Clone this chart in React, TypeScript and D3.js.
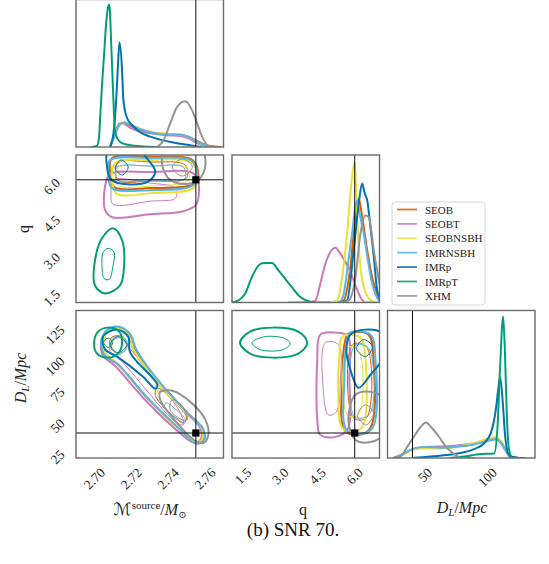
import React from "react";
import * as d3 from "d3";

const W = 549;
const H = 564;

const seriesNames = ["SEOB", "SEOBT", "SEOBNSBH", "IMRNSBH", "IMRp", "IMRpT", "XHM"];
const seriesColors = ["#d55e00", "#cc78bc", "#ece133", "#56b4e9", "#0173b2", "#029e73", "#949494"];

const mcDomain = [2.69, 2.77];
const qDomain = [1.05, 7.0];
const dlDomain = [20, 138];
const truthMc = 2.755;
const truthQ = 6.0;
const truthDL = 40;

const mcTicks = [2.7, 2.72, 2.74, 2.76];
const mcTickLabels = ["2.70", "2.72", "2.74", "2.76"];
const qTicks = [1.5, 3.0, 4.5, 6.0];
const qTickLabels = ["1.5", "3.0", "4.5", "6.0"];
const dlTicksY = [25, 50, 75, 100, 125];
const dlTicksX = [50, 100];

// ---- 1D marginals: [value, relative density] ----
const mcSEOB = [[2.7085,0],[2.7112,0.09],[2.7136,0.15],[2.7157,0.165],[2.7194,0.145],[2.7248,0.115],[2.7319,0.095],[2.7395,0.085],[2.7466,0.08],[2.7509,0.07],[2.7558,0.04],[2.7613,0.01],[2.7683,0]];
const mcSEOBT = [[2.7085,0],[2.7112,0.1],[2.7136,0.16],[2.7149,0.165],[2.7194,0.13],[2.7248,0.105],[2.7319,0.09],[2.7395,0.08],[2.7466,0.075],[2.7509,0.06],[2.7558,0.025],[2.7613,0]];
const mcSEOBNSBH = [[2.7085,0],[2.7112,0.08],[2.7136,0.15],[2.7163,0.17],[2.7194,0.155],[2.7248,0.125],[2.7319,0.1],[2.7395,0.09],[2.7466,0.085],[2.7509,0.07],[2.7558,0.035],[2.7613,0.005],[2.765,0]];
const mcIMRNSBH = [[2.7085,0],[2.7112,0.085],[2.7136,0.15],[2.716,0.165],[2.7194,0.15],[2.7248,0.12],[2.7319,0.095],[2.7395,0.085],[2.7466,0.085],[2.7509,0.07],[2.7558,0.035],[2.7613,0.005],[2.765,0]];
const mcIMRp = [[2.7085,0],[2.7103,0.09],[2.7118,0.32],[2.7127,0.54],[2.7136,0.71],[2.7149,0.54],[2.7157,0.32],[2.7176,0.2],[2.7203,0.15],[2.7248,0.1],[2.7303,0.07],[2.7357,0.05],[2.7428,0.03],[2.7504,0.015],[2.7575,0]];
const mcIMRpT = [[2.6987,0],[2.7015,0.01],[2.7026,0.08],[2.7031,0.2],[2.7041,0.42],[2.7052,0.62],[2.7063,0.83],[2.7074,0.95],[2.7078,0.965],[2.7083,0.94],[2.7091,0.7],[2.7101,0.38],[2.7112,0.1],[2.7128,0.05],[2.7145,0.03],[2.7183,0.015],[2.7248,0.005],[2.733,0]];
const mcXHM = [[2.7339,0],[2.7375,0.045],[2.7411,0.16],[2.7448,0.27],[2.7493,0.31],[2.7529,0.25],[2.7557,0.16],[2.7584,0.07],[2.762,0.005],[2.765,0]];

const qSEOB = [[5.3,0],[5.555,0.014],[5.826,0.24],[6.029,0.58],[6.162,0.705],[6.3,0.58],[6.503,0.354],[6.705,0.17],[6.907,0.06],[7.0,0.014]];
const qSEOBT = [[3.329,0],[4.2,0.004],[4.41,0.012],[4.612,0.127],[4.815,0.263],[5.017,0.342],[5.219,0.372],[5.422,0.331],[5.624,0.274],[5.826,0.206],[6.029,0.116],[6.231,0.036],[6.434,0],[6.8,0]];
const qSEOBNSBH = [[5.0,0],[5.288,0.014],[5.49,0.17],[5.693,0.467],[5.867,0.807],[6.0,0.954],[6.098,0.58],[6.231,0.24],[6.434,0.07],[6.705,0.009],[7.0,0]];
const qIMRNSBH = [[5.4,0],[5.55,0.05],[5.624,0.127],[5.76,0.3],[5.895,0.467],[6.0,0.62],[6.098,0.694],[6.2,0.6],[6.365,0.467],[6.5,0.32],[6.705,0.127],[6.85,0.05],[6.972,0.014]];
const qIMRp = [[5.45,0],[5.693,0.014],[5.96,0.354],[6.162,0.67],[6.3,0.807],[6.405,0.74],[6.503,0.694],[6.636,0.51],[6.77,0.31],[6.907,0.082],[7.0,0.03]];
const qIMRpT = [[1.05,0],[1.305,0.014],[1.576,0.059],[1.847,0.17],[2.115,0.25],[2.317,0.267],[2.657,0.267],[2.924,0.218],[3.195,0.16],[3.467,0.104],[3.734,0.048],[4.005,0.018],[4.41,0],[5.0,0]];
const qXHM = [[5.5,0],[5.758,0.014],[6.029,0.17],[6.231,0.467],[6.434,0.59],[6.568,0.58],[6.77,0.354],[7.0,0.127]];

const dlSEOB = [[25,0],[33.1,0.03],[41.1,0.06],[49.1,0.07],[62.5,0.068],[75.9,0.078],[89.3,0.095],[100,0.12],[106.7,0.13],[110.7,0.11],[114.7,0.054],[118.2,0.01],[125,0]];
const dlSEOBT = [[25,0],[33.1,0.03],[41.1,0.062],[49.1,0.075],[62.5,0.078],[75.9,0.085],[89.3,0.1],[100,0.125],[106.7,0.13],[110.7,0.1],[114.7,0.045],[118.2,0.005],[125,0]];
const dlSEOBNSBH = [[25,0],[33.1,0.028],[41.1,0.055],[49.1,0.065],[62.5,0.065],[75.9,0.078],[89.3,0.1],[100,0.13],[106.7,0.14],[110.7,0.115],[114.7,0.05],[118.2,0.008],[125,0]];
const dlIMRNSBH = [[25,0],[33.1,0.03],[41.1,0.065],[49.1,0.075],[62.5,0.07],[75.9,0.078],[89.3,0.092],[100,0.115],[106.7,0.125],[110.7,0.105],[114.7,0.05],[118.2,0.008],[125,0]];
const dlIMRp = [[40,0],[54.5,0.01],[75.9,0.03],[89.3,0.06],[97.3,0.1],[102.7,0.17],[106.7,0.33],[108.8,0.48],[110.1,0.545],[112.1,0.39],[113.9,0.17],[116.1,0.04],[118.7,0.01],[125,0]];
const dlIMRpT = [[70,0],[81.2,0.01],[94.6,0.027],[105.3,0.03],[108,0.21],[110.1,0.62],[112.5,0.96],[113.9,0.73],[115.5,0.28],[117.4,0.05],[120.1,0],[130,0]];
const dlXHM = [[25,0],[30.4,0.01],[35.8,0.076],[41.1,0.144],[46.5,0.21],[50.5,0.24],[55.9,0.2],[61.2,0.144],[67.9,0.065],[74.6,0.02],[78.6,0],[90,0]];

// ---- 2D contours: [series, outer(1)/inner(0), points] ----
const contMcQ = [
  ["SEOB", 1, [[2.7096,6.879],[2.7303,6.919],[2.7531,6.798],[2.7564,6.15],[2.7542,5.826],[2.7303,5.664],[2.7107,5.705],[2.7085,6.312]]],
  ["SEOB", 0, [[2.7128,6.676],[2.7303,6.717],[2.7493,6.595],[2.7499,6.069],[2.7303,5.948],[2.7128,5.988]]],
  ["SEOBT", 1, [[2.7085,6.231],[2.7303,6.312],[2.752,6.312],[2.7558,6.069],[2.7553,5.016],[2.7482,4.733],[2.7303,4.612],[2.7096,4.49],[2.7058,4.774],[2.7058,5.745]]],
  ["SEOBT", 0, [[2.7101,5.988],[2.7303,5.867],[2.7439,5.664],[2.7439,5.259],[2.7303,5.138],[2.7101,5.016],[2.709,5.502]]],
  ["SEOBNSBH", 1, [[2.7112,6.676],[2.7303,6.798],[2.752,6.717],[2.7558,6.19],[2.7537,5.664],[2.7303,5.462],[2.7123,5.421],[2.7096,5.907]]],
  ["SEOBNSBH", 0, [[2.7128,6.474],[2.7303,6.555],[2.7499,6.474],[2.751,5.988],[2.7303,5.745],[2.7128,5.786]]],
  ["IMRNSBH", 1, [[2.7085,6.798],[2.7303,6.879],[2.752,6.798],[2.7558,6.312],[2.7537,5.786],[2.7303,5.583],[2.7096,5.664],[2.7074,6.19]]],
  ["IMRNSBH", 0, [[2.7123,6.514],[2.7303,6.55],[2.7482,6.514],[2.7488,6.029],[2.7303,6.0],[2.7123,5.988]]],
  ["IMRp", 1, [[2.7074,7.2],[2.7069,6.514],[2.7085,6.069],[2.7128,5.867],[2.7286,5.907],[2.733,6.312],[2.7292,6.798],[2.7237,7.2]]],
  ["IMRp", 0, [[2.7145,6.798],[2.7183,6.514],[2.7151,6.19],[2.7112,6.474]]],
  ["IMRpT", 1, [[2.7101,4.045],[2.715,3.56],[2.7161,2.547],[2.7139,1.738],[2.7058,1.414],[2.7003,1.738],[2.7003,2.75],[2.7041,3.64]]],
  ["IMRpT", 0, [[2.7074,3.235],[2.7107,3.073],[2.7101,2.547],[2.708,1.98],[2.7052,2.02],[2.7041,2.547],[2.7047,3.073]]],
  ["XHM", 1, [[2.7384,7.2],[2.7368,6.595],[2.7411,5.988],[2.7493,5.826],[2.7564,5.988],[2.7602,6.595],[2.7575,7.28]]],
  ["XHM", 0, [[2.7477,6.838],[2.7531,6.514],[2.7477,6.15],[2.7422,6.514]]],
];

const contMcDL = [
  ["SEOB", 1, [[2.7041,112.3],[2.7074,121.9],[2.7139,124.3],[2.7194,117.9],[2.7221,106.7],[2.7341,82.6],[2.7504,56.1],[2.7585,44.1],[2.7591,34.4],[2.7548,32.0],[2.7466,42.5],[2.7286,68.2],[2.7123,95.4],[2.7058,102.7]]],
  ["SEOB", 0, [[2.709,116],[2.7139,117.9],[2.7172,113],[2.7167,106],[2.712,104],[2.7085,109]]],
  ["SEOB", 0, [[2.7341,76],[2.7466,60],[2.75,52],[2.7482,48],[2.7455,50],[2.733,70]]],
  ["SEOBT", 1, [[2.7036,111.5],[2.707,121.5],[2.7139,123.5],[2.719,117],[2.7213,106],[2.733,82.5],[2.7493,56.5],[2.7572,44.5],[2.7578,35],[2.7537,32.5],[2.7452,41.5],[2.7272,67],[2.711,94],[2.7048,101.5]]],
  ["SEOBT", 0, [[2.7096,113.1],[2.7139,116.3],[2.7183,109.1],[2.7466,56.1],[2.7482,46.5],[2.7439,48.9],[2.7139,98.7],[2.7085,105.1]]],
  ["SEOBNSBH", 1, [[2.7047,113],[2.708,122.5],[2.7139,123.5],[2.719,117],[2.7215,106],[2.7335,82],[2.7498,56],[2.758,44.5],[2.7586,35],[2.7545,33],[2.746,43],[2.728,69],[2.712,96],[2.706,103.5]]],
  ["SEOBNSBH", 0, [[2.7101,114.7],[2.715,117.1],[2.7178,110],[2.7145,104],[2.7101,106]]],
  ["SEOBNSBH", 0, [[2.7328,77],[2.7346,75.5],[2.734,72.5],[2.7322,74]]],
  ["IMRNSBH", 1, [[2.7036,113],[2.707,122.5],[2.7135,125],[2.7197,118.5],[2.7226,107],[2.7346,82],[2.751,55],[2.759,43],[2.7594,34],[2.755,31.5],[2.747,42],[2.729,67.5],[2.7127,95],[2.7055,102]]],
  ["IMRNSBH", 0, [[2.7096,115],[2.7145,118],[2.718,111],[2.714,103],[2.7096,107]]],
  ["IMRNSBH", 0, [[2.739,64],[2.7455,57],[2.7493,51],[2.7488,48],[2.7455,51],[2.738,61]]],
  ["IMRp", 1, [[2.7047,117.1],[2.7123,122.7],[2.7183,117.1],[2.7194,104.3],[2.7341,78.6],[2.733,75.4],[2.7264,85],[2.7123,101.1],[2.7058,106.7]]],
  ["IMRp", 0, [[2.7128,117.1],[2.7177,110.7],[2.7128,104.3],[2.7085,110.7]]],
  ["IMRpT", 1, [[2.7074,124.3],[2.7134,121.1],[2.715,112.3],[2.7128,103.5],[2.7074,100.3],[2.7014,103.5],[2.6998,112.3],[2.702,121.1]]],
  ["IMRpT", 0, [[2.7074,116],[2.71,112.3],[2.7074,108.5],[2.705,112.3]]],
  ["XHM", 1, [[2.7357,73],[2.7422,73.8],[2.752,64.9],[2.7602,50.5],[2.7618,38.5],[2.7591,32],[2.7548,33.6],[2.7493,40.9],[2.7411,54.5],[2.7357,66.5]]],
  ["XHM", 0, [[2.7422,66.5],[2.7477,61.7],[2.7504,50.5],[2.7477,50.5],[2.7411,58.5]]],
];

const contQDL = [
  ["SEOB", 1, [[5.745,119.5],[6.555,118.7],[6.757,98.7],[6.636,44.1],[6.15,38.5],[5.584,42.5],[5.503,82.6],[5.584,110.7]]],
  ["SEOB", 0, [[5.908,110.7],[6.474,109.1],[6.474,52.1],[5.948,52.1]]],
  ["SEOBT", 1, [[4.612,118.7],[5.219,120.3],[5.705,117.9],[5.786,82.6],[5.705,42.5],[5.219,36.9],[4.612,38.5],[4.49,50.5],[4.49,98.7]]],
  ["SEOBT", 0, [[4.815,112.3],[5.341,110.7],[5.422,82.6],[5.259,56.9],[4.936,54.5],[4.733,74.6]]],
  ["SEOBNSBH", 1, [[5.503,117.1],[6.231,116.3],[6.434,98.7],[6.35,46.5],[6.029,40.9],[5.503,44.1],[5.341,70.6],[5.381,102.7]]],
  ["SEOBNSBH", 0, [[5.705,108.3],[6.15,106.7],[6.15,54.5],[5.705,54.5]]],
  ["IMRNSBH", 1, [[5.827,120.3],[6.636,118.7],[6.838,98.7],[6.717,44.1],[6.231,39.3],[5.665,42.5],[5.584,82.6],[5.665,110.7]]],
  ["IMRNSBH", 0, [[6.0,110],[6.55,108],[6.6,55],[6.0,53]]],
  ["IMRp", 1, [[5.827,118.7],[6.434,122.7],[7.04,120.3],[7.08,98.7],[6.636,86.6],[6.15,76.2],[5.827,90.6],[5.665,106.7]]],
  ["IMRp", 0, [[6.353,114.7],[6.717,109.1],[6.434,101.1],[6.07,107.5]]],
  ["IMRpT", 1, [[1.374,112.3],[1.779,121.1],[2.71,124.3],[3.722,121.1],[4.086,112.3],[3.722,103.5],[2.71,100.3],[1.779,103.5]]],
  ["IMRpT", 0, [[1.86,112.3],[2.386,117.1],[3.195,115.5],[3.398,111.5],[3.114,106.7],[2.183,106.7]]],
  ["XHM", 1, [[6.029,70.6],[6.636,73],[7.12,68.2],[7.12,38.5],[6.636,32.8],[6.029,34.4],[5.746,50.5]]],
  ["XHM", 0, [[6.434,62.5],[6.757,56.1],[6.474,46.5],[6.111,53.7]]],
];

const mcMarginals = [mcSEOB, mcSEOBT, mcSEOBNSBH, mcIMRNSBH, mcIMRp, mcIMRpT, mcXHM];
const qMarginals = [qSEOB, qSEOBT, qSEOBNSBH, qIMRNSBH, qIMRp, qIMRpT, qXHM];
const dlMarginals = [dlSEOB, dlSEOBT, dlSEOBNSBH, dlIMRNSBH, dlIMRp, dlIMRpT, dlXHM];

// layout
const colX = [76, 232, 387.5];
const rowY = [-0.5, 155, 310.5];
const S = 147.5;
const FONT = "'Liberation Serif', 'DejaVu Serif', serif";
const TFS = 13.5;

function textLen(s: string, fs: number) {
  let w = 0;
  for (const c of s) w += c === "." ? 0.25 : 0.5;
  return w * fs;
}

function colorOf(name: string) {
  return seriesColors[seriesNames.indexOf(name)];
}

export default function App() {
  const xMc = d3.scaleLinear(mcDomain, [colX[0], colX[0] + S]);
  const xQ = d3.scaleLinear(qDomain, [colX[1], colX[1] + S]);
  const xDL = d3.scaleLinear(dlDomain, [colX[2], colX[2] + S]);
  const yQ = d3.scaleLinear(qDomain, [rowY[1] + S, rowY[1]]);
  const yDL = d3.scaleLinear(dlDomain, [rowY[2] + S, rowY[2]]);
  const yH = (r: number) => d3.scaleLinear([0, 1], [rowY[r] + S, rowY[r]]);

  const marg = [
    { c: 0, r: 0, x: xMc, data: mcMarginals, truth: truthMc },
    { c: 1, r: 1, x: xQ, data: qMarginals, truth: truthQ },
    { c: 2, r: 2, x: xDL, data: dlMarginals, truth: truthDL },
  ];
  const pairs = [
    { c: 0, r: 1, x: xMc, y: yQ, data: contMcQ, tx: truthMc, ty: truthQ },
    { c: 0, r: 2, x: xMc, y: yDL, data: contMcDL, tx: truthMc, ty: truthDL },
    { c: 1, r: 2, x: xQ, y: yDL, data: contQDL, tx: truthQ, ty: truthDL },
  ];

  const xLabel = (cx: number, s: string, key: string) => {
    const L = textLen(s, TFS);
    const h = 0.68 * TFS;
    const cy = 467 + (L + h) * 0.3535;
    return (
      <text key={key} x={cx} y={cy} textAnchor="middle" dominantBaseline="central"
        transform={`rotate(-45 ${cx} ${cy})`} fontSize={TFS} fontFamily={FONT} fill="#222">{s}</text>
    );
  };
  const yLabel = (ty: number, s: string, right: number, key: string) => {
    const L = textLen(s, TFS);
    const h = 0.68 * TFS;
    const cx = right - (L + h) * 0.3535;
    const cy = ty + 0.4 * L;
    return (
      <text key={key} x={cx} y={cy} textAnchor="middle" dominantBaseline="central"
        transform={`rotate(-45 ${cx} ${cy})`} fontSize={TFS} fontFamily={FONT} fill="#222">{s}</text>
    );
  };

  const frame = (c: number, r: number, key: string) => (
    <rect key={key} x={colX[c]} y={rowY[r]} width={S} height={S} fill="none" stroke="#6a6a6a" strokeWidth={1.4} />
  );

  return (
    <svg width={W} height={H} viewBox={`0 0 ${W} ${H}`} style={{ position: "absolute", left: 0, top: 0, background: "#fff" }}>
      <defs>
        {[0, 1, 2].map((c) =>
          [0, 1, 2].map((r) => (
            <clipPath id={`clip-${c}-${r}`} key={`cp${c}${r}`}>
              <rect x={colX[c]} y={rowY[r]} width={S} height={S} />
            </clipPath>
          ))
        )}
      </defs>
      <rect x={0} y={0} width={W} height={H} fill="#fff" />

      {/* marginals */}
      {marg.map((m, mi) => {
        const y = yH(m.r);
        const line = d3.line<number[]>().x((d) => m.x(d[0])).y((d) => y(d[1])).curve(d3.curveMonotoneX);
        return (
          <g key={`m${mi}`}>
            <g clipPath={`url(#clip-${m.c}-${m.r})`}>
              {m.data.map((d, si) => (
                <path key={si} d={line(d as number[][]) || ""} fill="none" stroke={seriesColors[si]}
                  strokeWidth={2} strokeLinejoin="round" strokeLinecap="round" />
              ))}
              <line x1={m.x(m.truth)} x2={m.x(m.truth)} y1={rowY[m.r]} y2={rowY[m.r] + S} stroke="#111" strokeWidth={1} />
            </g>
            {frame(m.c, m.r, `f${mi}`)}
          </g>
        );
      })}

      {/* 2D panels */}
      {pairs.map((p, pi) => {
        const line = d3.line<number[]>().x((d) => p.x(d[0])).y((d) => p.y(d[1])).curve(d3.curveCatmullRomClosed.alpha(0.5));
        const sx = p.x(p.tx);
        const sy = p.y(p.ty);
        return (
          <g key={`p${pi}`}>
            <g clipPath={`url(#clip-${p.c}-${p.r})`}>
              {(p.data as any[]).map((rec, k) => (
                <path key={k} d={line(rec[2]) || ""} fill="none" stroke={colorOf(rec[0])}
                  strokeWidth={rec[1] ? 2 : 1} strokeLinejoin="round" />
              ))}
              <line x1={sx} x2={sx} y1={rowY[p.r]} y2={rowY[p.r] + S} stroke="#111" strokeWidth={1} />
              <line x1={colX[p.c]} x2={colX[p.c] + S} y1={sy} y2={sy} stroke="#111" strokeWidth={1} />
              <rect x={sx - 3.6} y={sy - 3.6} width={7.2} height={7.2} fill="#000" />
            </g>
            {frame(p.c, p.r, `pf${pi}`)}
          </g>
        );
      })}

      {/* tick labels */}
      {mcTicks.map((t, i) => xLabel(xMc(t), mcTickLabels[i], `xm${i}`))}
      {qTicks.map((t, i) => xLabel(xQ(t), qTickLabels[i], `xq${i}`))}
      {dlTicksX.map((t, i) => xLabel(xDL(t), String(t), `xd${i}`))}
      {qTicks.map((t, i) => yLabel(yQ(t), qTickLabels[i], 61, `yq${i}`))}
      {dlTicksY.map((t, i) => yLabel(yDL(t), String(t), 65.5, `yd${i}`))}

      {/* axis labels */}
      <text x={150} y={515} textAnchor="middle" fontFamily={FONT} fontSize={16} fill="#222">
        <tspan fontFamily="'DejaVu Sans', serif" fontSize={17}>ℳ</tspan>
        <tspan fontSize={11} dy={-6}>source</tspan>
        <tspan dy={6}>/</tspan>
        <tspan fontStyle="italic">M</tspan>
        <tspan fontSize={10} dy={3}>⊙</tspan>
      </text>
      <text x={303} y={515} textAnchor="middle" fontFamily={FONT} fontSize={16} fill="#222">q</text>
      <text x={462} y={513} textAnchor="middle" fontFamily={FONT} fontSize={16} fill="#222">
        <tspan fontStyle="italic">D</tspan>
        <tspan fontStyle="italic" fontSize={11} dy={3}>L</tspan>
        <tspan dy={-3}>/</tspan>
        <tspan fontStyle="italic">Mpc</tspan>
      </text>
      <text x={0} y={0} transform="translate(29 229) rotate(-90)" textAnchor="middle" fontFamily={FONT} fontSize={16} fill="#222">q</text>
      <text x={0} y={0} transform="translate(26 378) rotate(-90)" textAnchor="middle" fontFamily={FONT} fontSize={16} fill="#222">
        <tspan fontStyle="italic">D</tspan>
        <tspan fontStyle="italic" fontSize={11} dy={3}>L</tspan>
        <tspan dy={-3}>/</tspan>
        <tspan fontStyle="italic">Mpc</tspan>
      </text>

      {/* legend */}
      <rect x={392} y={202} width={93} height={103} rx={3} fill="#fff" stroke="#d6d6d6" strokeWidth={1} />
      {seriesNames.map((n, i) => {
        const yy = 209.5 + i * 14.4;
        return (
          <g key={`lg${i}`}>
            <line x1={397} x2={417} y1={yy} y2={yy} stroke={seriesColors[i]} strokeWidth={1.8} opacity={0.85} />
            <text x={425} y={yy} dominantBaseline="central" fontFamily={FONT} fontSize={11} fill="#222">{n}</text>
          </g>
        );
      })}

      {/* caption */}
      <text x={293} y={536} textAnchor="middle" fontFamily={FONT} fontSize={19} fill="#111">(b) SNR 70.</text>
    </svg>
  );
}
